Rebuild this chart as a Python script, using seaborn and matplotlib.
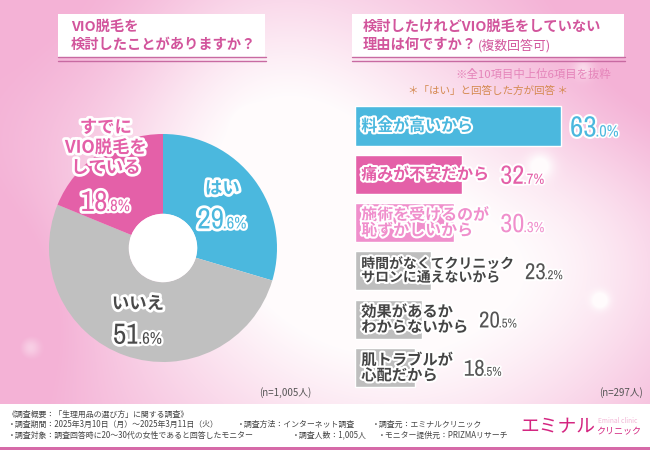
import numpy as np
import pandas as pd
import matplotlib
matplotlib.use("Agg")
import matplotlib.pyplot as plt
import matplotlib.patheffects as pe
from matplotlib.patches import Rectangle, Circle
from matplotlib import font_manager as fm
import seaborn as sns

# ---------------- data ----------------
pie_labels = ["はい", "いいえ", "すでに\nVIO脱毛を\nしている"]
pie_values = [29.6, 51.6, 18.8]
pie_colors = ["#4BB8DE", "#C0C0C0", "#E460A8"]
pie_text_colors = ["#4BB8DE", "#4A4A4A", "#E460A8"]

reasons = ["料金が高いから", "痛みが不安だから", "施術を受けるのが\n恥ずかしいから",
           "時間がなくてクリニック\nサロンに通えないから", "効果があるか\nわからないから",
           "肌トラブルが\n心配だから"]
reason_values = [63.0, 32.7, 30.3, 23.2, 20.5, 18.5]
bar_colors = ["#4BB8DE", "#E460A8", "#F08FCC", "#BEBEBE", "#BEBEBE", "#BEBEBE"]
label_colors = ["#4BB8DE", "#E460A8", "#F08FCC", "#444444", "#444444", "#444444"]
value_colors = ["#4BB8DE", "#E460A8", "#F08FCC", "#555555", "#555555", "#555555"]

title_left = ["VIO脱毛を", "検討したことがありますか？"]
title_right = ["検討したけれどVIO脱毛をしていない", "理由は何ですか？"]
title_right_suffix = "(複数回答可)"
note1 = "※全10項目中上位6項目を抜粋"
note2 = "＊「はい」と回答した方が回答 ＊"
n_left = "(n=1,005人)"
n_right = "(n=297人)"
footer_lines = [
    [("《調査概要：「生理用品の選び方」に関する調査》", 8)],
    [("・調査期間：2025年3月10日（月）～2025年3月11日（火）", 8), ("・調査方法：インターネット調査", 237), ("・調査元：エミナルクリニック", 372)],
    [("・調査対象：調査回答時に20～30代の女性であると回答したモニター", 8), ("・調査人数：1,005人", 292), ("・モニター提供元：PRIZMAリサーチ", 378)],
]
logo_main = "エミナル"
logo_sub = "クリニック"
logo_en = "Eminal clinic"

# ---------------- style ----------------
sns.set_theme(style="white")
plt.rcParams["font.family"] = ["Noto Sans CJK JP", "DejaVu Sans"]
TITLE_C = "#D2559C"
W, H = 650, 450


def pick_num_font():
    for f in fm.fontManager.ttflist:
        if "Narrow" in f.name or "Condensed" in f.name:
            return dict(family=f.name), 1.0
    return dict(family="Liberation Sans"), 0.92


NUMF, NUMSCALE = pick_num_font()

fig = plt.figure(figsize=(6.5, 4.5), dpi=100)

# ---------------- background ----------------
ax_bg = fig.add_axes([0, 0, 1, 1])
ax_bg.set_zorder(0)
yy, xx = np.mgrid[0:H, 0:W].astype(float)
p = 0.55 + 0.45 * np.clip(np.hypot((xx - 330) / 380, (yy - 240) / 300), 0, 1)
for cx, cy, r, s in [(330, 250, 170, 0.55), (240, 90, 110, 0.45), (470, 330, 140, 0.35),
                     (600, 250, 90, 0.3)]:
    p -= s * np.exp(-((xx - cx) ** 2 + (yy - cy) ** 2) / (2 * r ** 2))
for cx, cy, r, s in [(0, 300, 80, 0.35), (650, 60, 90, 0.25), (120, 30, 90, 0.2)]:
    p += s * np.exp(-((xx - cx) ** 2 + (yy - cy) ** 2) / (2 * r ** 2))
for cx, cy, r in [(30, 347, 7), (540, 165, 9), (583, 68, 7), (600, 300, 6), (250, 125, 8)]:
    p -= 0.5 * np.exp(-((xx - cx) ** 2 + (yy - cy) ** 2) / (2 * r ** 2))
p = np.clip(p, 0, 1)
white = np.array([1.0, 0.985, 0.99])
pink = np.array([244, 178, 214]) / 255
img = white[None, None, :] * (1 - p[..., None]) + pink[None, None, :] * p[..., None]
ax_bg.imshow(img, extent=(0, W, H, 0), aspect="auto", zorder=0)
ax_bg.set_xlim(0, W)
ax_bg.set_ylim(H, 0)
ax_bg.axis("off")

# title boxes
for x0, x1 in [(58, 265), (352, 624)]:
    ax_bg.add_patch(Rectangle((x0, 14), x1 - x0, 43, facecolor="white", edgecolor="none", zorder=1))
    ax_bg.plot([x0, x1 + 1], [57, 57], color="#C86AA2", lw=1.0, zorder=2)
    ax_bg.plot([x0, x1 + 1], [60.5, 60.5], color="#C86AA2", lw=1.0, zorder=2)
ax_bg.text(71, 27, title_left[0], fontsize=10.3, color=TITLE_C, fontweight="bold", va="center", zorder=3)
ax_bg.text(71, 45, title_left[1], fontsize=10.3, color=TITLE_C, fontweight="bold", va="center", zorder=3)
ax_bg.text(363, 27, title_right[0], fontsize=10.3, color=TITLE_C, fontweight="bold", va="center", zorder=3)
t_r2 = ax_bg.text(363, 45, title_right[1], fontsize=10.3, color=TITLE_C, fontweight="bold", va="center", zorder=3)

ax_bg.text(611, 74, note1, fontsize=8.2, color="#E585BA", ha="right", va="center", zorder=3)
ax_bg.text(488, 91, note2, fontsize=7.6, color="#D4894F", ha="center", va="center", zorder=3)
ax_bg.text(311, 393, n_left, fontsize=7, color="#555555", ha="right", va="center", zorder=3)
ax_bg.text(643, 393, n_right, fontsize=7, color="#555555", ha="right", va="center", zorder=3)

# footer
ax_bg.add_patch(Rectangle((0, 404), W, 43.5, facecolor="white", edgecolor="none", zorder=1))
ax_bg.add_patch(Rectangle((0, 447), W, 3, facecolor="#D66AA8", edgecolor="none", zorder=1))
for row, y in zip(footer_lines, [414, 424.5, 435]):
    for txt, x in row:
        ax_bg.text(x, y, txt, fontsize=5.7, color="#444444", va="center", zorder=3)
ax_bg.text(595, 427, logo_main, fontsize=13.5, color="#D42480", ha="right", va="center", zorder=3)
ax_bg.text(596, 432, logo_sub, fontsize=6.5, color="#D42480", ha="left", va="center", zorder=3)
ax_bg.text(598, 421, logo_en, fontsize=4.8, color="#F2B5D5", ha="left", va="center", zorder=3)

# ---------------- donut ----------------
pcx, pcy, pr = 163, 248, 114
ax_pie = fig.add_axes([(pcx - pr) / W, 1 - (pcy + pr) / H, 2 * pr / W, 2 * pr / H])
ax_pie.set_zorder(1)
wedges, _ = ax_pie.pie(pie_values, colors=pie_colors, startangle=90, counterclock=False,
                       radius=1, wedgeprops=dict(width=0.70, linewidth=0))
ax_pie.add_patch(Circle((0, 0), 0.30, facecolor="white", edgecolor="none", zorder=3))
ax_pie.set_xlim(-1, 1)
ax_pie.set_ylim(-1, 1)
ax_pie.set_aspect("equal")
ax_pie.axis("off")

# ---------------- bars (seaborn) ----------------
bar_x0, ppu = 355, 3.27
top_c, step = 126, 48.3
y_top = top_c - step / 2
y_bot = top_c + step * (len(reasons) - 0.5)
ax_bar = fig.add_axes([bar_x0 / W, 1 - y_bot / H, (W - bar_x0) / W, (y_bot - y_top) / H])
ax_bar.set_zorder(1)
df = pd.DataFrame({"reason": reasons, "value": reason_values})
sns.barplot(data=df, x="value", y="reason", hue="reason", palette=bar_colors,
            orient="h", width=0.81, saturation=1, legend=False, ax=ax_bar)
ax_bar.set_xlim(0, (W - bar_x0) / ppu)
ax_bar.set_ylim(len(reasons) - 0.5, -0.5)
ax_bar.axis("off")

# overlay for texts above everything
ax_top = fig.add_axes([0, 0, 1, 1])
ax_top.set_zorder(5)
ax_top.patch.set_alpha(0)
ax_top.set_xlim(0, W)
ax_top.set_ylim(H, 0)
ax_top.axis("off")

stroke = lambda lw: [pe.withStroke(linewidth=lw, foreground="white")]
fig.canvas.draw()
R = fig.canvas.get_renderer()

# suffix of right title
ext = t_r2.get_window_extent(R)
sx, _ = ax_bg.transData.inverted().transform((ext.x1, ext.y0))
ax_bg.text(sx + 1, 45.5, title_right_suffix, fontsize=9.3, color=TITLE_C,
           va="center", zorder=3)


def split_number(ax, x, y, value, big, small, color, align="left", lw=3.5):
    ip, dp = f"{value:.1f}".split(".")
    t1 = ax.text(x, y, ip, fontsize=big * NUMSCALE, color=color, fontweight="bold",
                 ha="left", va="baseline", path_effects=stroke(lw), zorder=5, **NUMF)
    t2 = ax.text(x, y, "." + dp + "%", fontsize=small * NUMSCALE, color=color,
                 ha="left", va="baseline", path_effects=stroke(lw * 0.8), zorder=5, **NUMF)
    w1 = t1.get_window_extent(R).width
    w2 = t2.get_window_extent(R).width
    x0 = x - (w1 + w2) / 2 if align == "center" else x
    t1.set_x(x0)
    t2.set_x(x0 + w1 - 1)


to_top = lambda disp: ax_top.transData.inverted().transform(disp)
cum = 0.0
total = sum(pie_values)
label_r = [0.65, 0.66, 0.90]
for i, (lab, v) in enumerate(zip(pie_labels, pie_values)):
    mid = np.deg2rad(90 - 360 * (cum + v / 2) / total)
    cum += v
    px, py = to_top(ax_pie.transData.transform((label_r[i] * np.cos(mid), label_r[i] * np.sin(mid))))
    nlines = lab.count("\n") + 1
    block = nlines * 23.5 + 30
    top = py - block / 2
    ax_top.text(px, top + (nlines * 23.5) / 2, lab, fontsize=12.5, color=pie_text_colors[i],
                fontweight="bold", ha="center", va="center", linespacing=1.15,
                path_effects=stroke(4), zorder=5)
    split_number(ax_top, px, top + nlines * 23.5 + 28, v, 21, 12, pie_text_colors[i],
                 align="center", lw=4)

label_sizes = [11.5, 11.5, 11.5, 10, 11, 11]
labels = []
for i, lab in enumerate(reasons):
    t = ax_bar.annotate(lab, xy=(0, i), xytext=(4.5, 0), textcoords="offset points",
                        fontsize=label_sizes[i], color=label_colors[i], fontweight="bold",
                        ha="left", va="center", linespacing=0.95,
                        path_effects=stroke(3), zorder=5)
    labels.append(t)
fig.canvas.draw()
R = fig.canvas.get_renderer()
big_sizes = [21, 19, 19, 16.5, 16.5, 16.5]
for i, v in enumerate(reason_values):
    bar_end = ax_bar.transData.transform((v, i))
    lab_end = labels[i].get_window_extent(R).x1
    xd = max(bar_end[0] + 9, lab_end + 11)
    bx, by = to_top((xd, bar_end[1]))
    split_number(ax_top, bx, by + 0.5 * big_sizes[i], v, big_sizes[i], big_sizes[i] * 0.56,
                 value_colors[i], lw=3)

fig.savefig("out.png", dpi=100)
